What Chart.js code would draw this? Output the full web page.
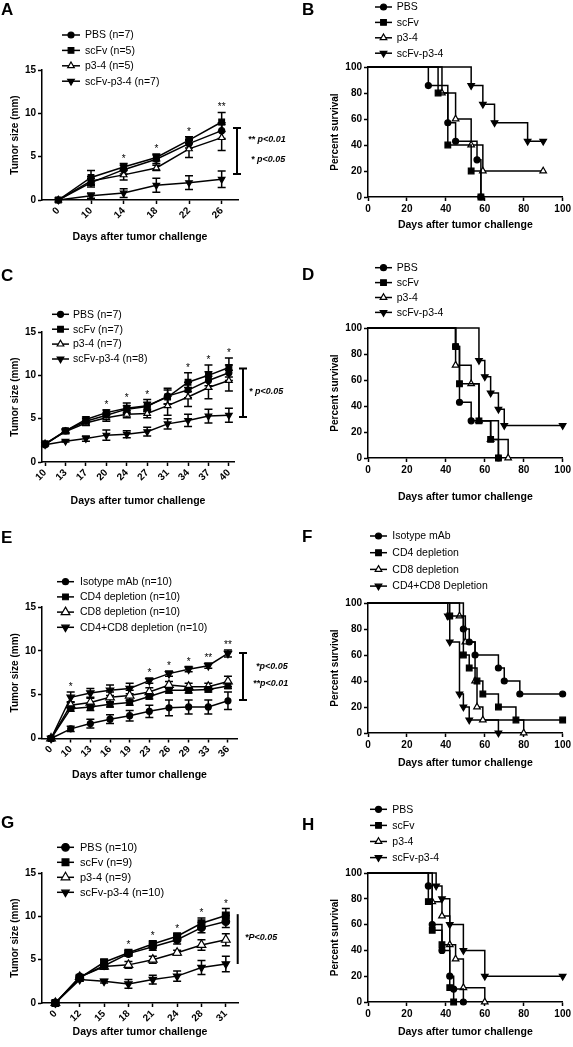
<!DOCTYPE html>
<html>
<head>
<meta charset="utf-8">
<script src="https://cdn.jsdelivr.net/npm/chart.js@4.4.0/dist/chart.umd.min.js"></script>
<style>
  html, body { margin: 0; padding: 0; background: #fff; }
  #fig { position: relative; width: 573px; height: 1047px; overflow: hidden; background: #fff; }
  #fig canvas { position: absolute; }
</style>
</head>
<body>
<div id="fig"></div>
<script>
// ---------- A: tumor size, 4 groups ----------
const daysA = ['0', '10', '14', '18', '22', '26'];
const pbsA = [0, 2.0, 3.5, 4.7, 6.5, 8.0];
const scfvA = [0, 2.6, 3.8, 4.9, 6.9, 9.0];
const p34A = [0, 2.2, 2.9, 3.7, 5.9, 7.2];
const comboA = [0, 0.5, 0.8, 1.7, 2.0, 2.4];
const pbsErrA = [0, 0.5, 0.5, 0.5, 0.5, 0.9];
const scfvErrA = [0, 0.8, 0.4, 0.4, 0.4, 1.1];
const p34ErrA = [0, 0.5, 0.6, 0.3, 1.0, 1.5];
const comboErrA = [0, 0.3, 0.5, 0.8, 0.8, 0.95];
const starsA = ['', '', '*', '*', '*', '**'];

// ---------- B: survival ----------
const pbsTimeB = [0, 31, 41, 45, 56, 58];
const pbsSurvB = [100, 85.7, 57.1, 42.9, 28.6, 0];
const scfvTimeB = [0, 36, 41, 53, 58];
const scfvSurvB = [100, 80, 40, 20, 0];
const p34TimeB = [0, 38, 45, 53, 59, 90];
const p34SurvB = [100, 80, 60, 40, 20, 20];
const comboTimeB = [0, 53, 59, 65, 82, 90];
const comboSurvB = [100, 85.7, 71.4, 57.1, 42.9, 42.9];

// ---------- C ----------
const daysC = ['10', '13', '17', '20', '24', '27', '31', '34', '37', '40'];
const pbsC = [2.0, 3.6, 4.7, 5.4, 6.1, 6.4, 7.6, 8.3, 9.4, 10.3];
const scfvC = [2.1, 3.6, 4.9, 5.7, 6.2, 6.5, 7.5, 9.2, 10.0, 10.9];
const p34C = [2.1, 3.5, 4.5, 5.1, 5.5, 5.6, 6.5, 7.5, 8.6, 9.4];
const comboC = [2.0, 2.4, 2.7, 3.1, 3.2, 3.5, 4.4, 4.8, 5.3, 5.4];
const pbsErrC = [0.1, 0.2, 0.3, 0.3, 0.4, 0.5, 0.9, 0.9, 1.0, 0.9];
const scfvErrC = [0.1, 0.2, 0.3, 0.3, 0.6, 0.7, 0.8, 1.1, 1.2, 1.1];
const p34ErrC = [0.1, 0.2, 0.3, 0.4, 0.4, 0.5, 1.1, 1.1, 1.3, 1.2];
const comboErrC = [0.1, 0.1, 0.3, 0.6, 0.4, 0.5, 0.6, 0.7, 0.8, 0.8];
const starsC = ['', '', '', '*', '*', '*', '', '*', '*', '*'];

// ---------- D ----------
const pbsTimeD = [0, 45, 47, 53, 67];
const pbsSurvD = [100, 85.7, 42.9, 28.6, 0];
const scfvTimeD = [0, 45, 47, 57, 63, 67];
const scfvSurvD = [100, 85.7, 57.1, 28.6, 14.3, 0];
const p34TimeD = [0, 45, 53, 57, 63, 72];
const p34SurvD = [100, 71.4, 57.1, 28.6, 14.3, 0];
const comboTimeD = [0, 57, 60, 63, 67, 70, 100];
const comboSurvD = [100, 75, 62.5, 50, 37.5, 25, 25];

// ---------- E ----------
const daysE = ['0', '10', '13', '16', '19', '23', '26', '29', '33', '36'];
const isoE = [0, 1.1, 1.7, 2.2, 2.6, 3.1, 3.5, 3.6, 3.6, 4.3];
const cd4E = [0, 3.4, 3.6, 3.9, 4.1, 4.8, 5.5, 5.5, 5.6, 6.0];
const cd8E = [0, 3.8, 4.1, 4.7, 4.9, 5.3, 6.1, 5.9, 5.9, 6.5];
const dblE = [0, 4.7, 5.2, 5.5, 5.7, 6.6, 7.4, 7.9, 8.3, 9.7];
const isoErrE = [0, 0.3, 0.5, 0.5, 0.6, 0.7, 0.9, 0.8, 0.8, 1.0];
const cd4ErrE = [0, 0.3, 0.4, 0.3, 0.3, 0.3, 0.3, 0.3, 0.3, 0.3];
const cd8ErrE = [0, 0.4, 0.5, 0.6, 0.6, 0.5, 0.4, 0.4, 0.4, 0.6];
const dblErrE = [0, 0.6, 0.5, 0.6, 0.6, 0.3, 0.3, 0.3, 0.3, 0.4];
const starsE = ['', '*', '', '', '', '*', '*', '*', '**', '**'];

// ---------- F ----------
const isoTimeF = [0, 49, 52, 55, 67, 70, 78, 100];
const isoSurvF = [100, 80, 70, 60, 50, 40, 30, 30];
const cd4TimeF = [0, 42, 49, 52, 56, 59, 67, 76, 100];
const cd4SurvF = [100, 90, 60, 50, 40, 30, 20, 10, 10];
const cd8TimeF = [0, 47, 50, 55, 56, 59, 80];
const cd8SurvF = [100, 90, 70, 40, 20, 10, 0];
const dblTimeF = [0, 41, 42, 47, 49, 52, 67];
const dblSurvF = [100, 90, 70, 30, 20, 10, 0];

// ---------- G ----------
const daysG = ['0', '12', '15', '18', '21', '24', '28', '31'];
const pbsG = [0, 3.0, 4.3, 5.7, 6.5, 7.3, 8.7, 9.4];
const scfvG = [0, 2.9, 4.7, 5.8, 6.8, 7.7, 9.2, 10.1];
const p34G = [0, 3.0, 4.2, 4.4, 5.0, 5.8, 6.7, 7.3];
const comboG = [0, 2.7, 2.5, 2.2, 2.7, 3.1, 4.1, 4.5];
const pbsErrG = [0, 0.2, 0.3, 0.3, 0.4, 0.5, 0.6, 0.7];
const scfvErrG = [0, 0.2, 0.3, 0.3, 0.3, 0.3, 0.6, 0.8];
const p34ErrG = [0, 0.2, 0.3, 0.4, 0.4, 0.3, 0.6, 0.7];
const comboErrG = [0, 0.2, 0.2, 0.5, 0.5, 0.6, 0.8, 0.9];
const starsG = ['', '', '', '*', '*', '*', '*', '*'];

// ---------- H ----------
const pbsTimeH = [0, 31, 33, 38, 42, 44, 49];
const pbsSurvH = [100, 90, 60, 40, 20, 10, 0];
const scfvTimeH = [0, 31, 33, 38, 42, 44];
const scfvSurvH = [100, 77.8, 55.6, 44.4, 11.1, 0];
const p34TimeH = [0, 33, 38, 42, 45, 49, 60];
const p34SurvH = [100, 77.8, 66.7, 44.4, 33.3, 11.1, 0];
const comboTimeH = [0, 35, 38, 42, 49, 60, 100];
const comboSurvH = [100, 90, 80, 60, 40, 20, 20];

const FONT = "'Liberation Sans', Arial, Helvetica, sans-serif";
Chart.defaults.font.family = FONT;
Chart.defaults.color = '#000';

const mk = {
  circle: { style: 'circle', rot: 0, fill: '#000', r: 3 },
  square: { style: 'rect', rot: 0, fill: '#000', r: 4 },
  openTri: { style: 'triangle', rot: 0, fill: '#fff', r: 3.8 },
  downTri: { style: 'triangle', rot: 180, fill: '#000', r: 3.8 }
};
function big(m, r) { return Object.assign({}, m, { r: r }); }

// canvas box + plot area, both in page pixels
function frame(box, area, yTitleX, xTitleY) {
  const lhX = 10.5 * 1.2, lhY = 10 * 1.2;
  const xH = xTitleY - area.b + lhX / 2;
  const padLeft = yTitleX - box.x - lhY / 2;
  return {
    padding: { left: padLeft, top: area.t - box.y, right: box.x + box.w - area.r, bottom: box.y + box.h - area.b - xH },
    yW: area.l - box.x - padLeft,
    xH: xH
  };
}

function makeCanvas(box) {
  const c = document.createElement('canvas');
  c.width = box.w; c.height = box.h;
  c.style.left = box.x + 'px'; c.style.top = box.y + 'px';
  c.style.width = box.w + 'px'; c.style.height = box.h + 'px';
  document.getElementById('fig').appendChild(c);
  return c;
}

function dataset(label, xs, ys, m, survival) {
  return {
    label: label,
    data: ys.map((y, i) => ({ x: xs[i], y: y })),
    borderColor: '#000', borderWidth: 1.5,
    pointStyle: m.style, pointRotation: m.rot,
    pointRadius: survival ? xs.map((t, i) => i === 0 ? 0 : m.r) : m.r,
    pointHoverRadius: m.r,
    pointBackgroundColor: m.fill, pointBorderColor: '#000', pointBorderWidth: 1.2,
    stepped: survival ? 'before' : false,
    tension: 0, fill: false, clip: false
  };
}

function overlay(spec) {
  return {
    id: 'overlay',
    beforeDatasetsDraw(chart) {
      if (!spec.errs) return;
      const ctx = chart.ctx, ys = chart.scales.y;
      ctx.save();
      ctx.strokeStyle = '#000'; ctx.lineWidth = 1.5;
      spec.errs.forEach((err, i) => {
        const meta = chart.getDatasetMeta(i);
        err.forEach((e, j) => {
          if (!e) return;
          const v = chart.data.datasets[i].data[j].y;
          const x = meta.data[j].x;
          const y1 = ys.getPixelForValue(v + e), y2 = ys.getPixelForValue(v - e);
          ctx.beginPath();
          ctx.moveTo(x, y1); ctx.lineTo(x, y2);
          ctx.moveTo(x - 4, y1); ctx.lineTo(x + 4, y1);
          ctx.moveTo(x - 4, y2); ctx.lineTo(x + 4, y2);
          ctx.stroke();
        });
      });
      ctx.restore();
    },
    afterDraw(chart) {
      const ctx = chart.ctx, ys = chart.scales.y;
      ctx.save();
      ctx.fillStyle = '#000'; ctx.strokeStyle = '#000';
      // panel letter
      ctx.font = 'bold 17px ' + FONT;
      ctx.textAlign = 'left'; ctx.textBaseline = 'alphabetic';
      ctx.fillText(spec.letter, spec.letterAt[0], spec.letterAt[1]);
      // legend
      const lg = spec.legend;
      ctx.font = lg.size + 'px ' + FONT;
      ctx.textBaseline = 'middle';
      chart.data.datasets.forEach((d, i) => {
        const y = lg.y + i * lg.dy;
        const m = spec.marks[i];
        ctx.lineWidth = 1.5; ctx.strokeStyle = '#000';
        ctx.beginPath(); ctx.moveTo(lg.x, y); ctx.lineTo(lg.x + lg.len, y); ctx.stroke();
        ctx.fillStyle = m.fill; ctx.lineWidth = 1.2;
        Chart.helpers.drawPoint(ctx, { pointStyle: m.style, rotation: m.rot, radius: m.r, borderWidth: 1.2 }, lg.x + lg.len / 2, y);
        ctx.fillStyle = '#000';
        ctx.fillText(d.label, lg.tx, y + 0.5);
      });
      // significance stars
      if (spec.stars) {
        ctx.font = '10px ' + FONT; ctx.textAlign = 'center'; ctx.textBaseline = 'alphabetic';
        spec.stars.forEach((s, j) => {
          if (!s) return;
          let top = -Infinity;
          chart.data.datasets.forEach((d, i) => { top = Math.max(top, d.data[j].y + (spec.errs[i][j] || 0)); });
          const x = chart.getDatasetMeta(0).data[j].x;
          ctx.fillText(s, x, ys.getPixelForValue(top) - 2);
        });
      }
      // bracket + p values
      if (spec.bracket) {
        const b = spec.bracket;
        const y1 = ys.getPixelForValue(b.from), y2 = ys.getPixelForValue(b.to);
        ctx.lineWidth = 2;
        ctx.beginPath();
        ctx.moveTo(b.x, y1); ctx.lineTo(b.x, y2);
        if (b.cap) {
          ctx.moveTo(b.x - b.cap, y1); ctx.lineTo(b.x + b.cap, y1);
          ctx.moveTo(b.x - b.cap, y2); ctx.lineTo(b.x + b.cap, y2);
        }
        ctx.stroke();
        ctx.font = 'italic bold 9px ' + FONT; ctx.textAlign = 'left'; ctx.textBaseline = 'middle';
        b.notes.forEach(n => ctx.fillText(n[0], n[1], n[2]));
      }
      ctx.restore();
    }
  };
}

function axisStyle() {
  return {
    grid: { display: true, drawOnChartArea: false, drawTicks: true, tickLength: 4, tickWidth: 1.5, tickColor: '#000', color: '#000' },
    border: { display: true, color: '#000', width: 1.5 }
  };
}

function tumorPanel(p) {
  const f = frame(p.box, p.area, p.yTitleX, p.xTitleY);
  const idx = p.days.map((d, i) => i);
  const sets = p.series.map((s, i) => dataset(s, idx, p.values[i], p.marks[i], false));
  new Chart(makeCanvas(p.box), {
    type: 'line',
    data: { datasets: sets },
    options: {
      responsive: false, animation: false, devicePixelRatio: 1,
      layout: { padding: f.padding },
      plugins: { legend: { display: false }, tooltip: { enabled: false } },
      scales: {
        x: Object.assign(axisStyle(), {
          type: 'linear', min: p.xMin, max: p.xMax,
          afterBuildTicks: s => { s.ticks = idx.map(i => ({ value: i })); },
          afterFit: s => { s.height = f.xH; },
          ticks: { autoSkip: false, minRotation: 45, maxRotation: 45, padding: 1, font: { size: 10, weight: 'bold' }, callback: v => p.days[v] },
          title: { display: true, text: 'Days after tumor challenge', font: { size: 10.5, weight: 'bold' }, padding: 0 }
        }),
        y: Object.assign(axisStyle(), {
          type: 'linear', min: 0, max: 15,
          afterFit: s => { s.width = f.yW; },
          ticks: { stepSize: 5, padding: 2, font: { size: 10, weight: 'bold' } },
          title: { display: true, text: 'Tumor size (mm)', font: { size: 10, weight: 'bold' }, padding: 0 }
        })
      }
    },
    plugins: [overlay(p)]
  });
}

function survivalPanel(p) {
  const f = frame(p.box, p.area, p.yTitleX, p.xTitleY);
  const sets = p.series.map((s, i) => dataset(s, p.times[i], p.surv[i], p.marks[i], true));
  new Chart(makeCanvas(p.box), {
    type: 'line',
    data: { datasets: sets },
    options: {
      responsive: false, animation: false, devicePixelRatio: 1,
      layout: { padding: f.padding },
      plugins: { legend: { display: false }, tooltip: { enabled: false } },
      scales: {
        x: Object.assign(axisStyle(), {
          type: 'linear', min: 0, max: 100,
          afterFit: s => { s.height = f.xH; },
          ticks: { stepSize: 20, padding: 2, maxRotation: 0, font: { size: 10, weight: 'bold' } },
          title: { display: true, text: 'Days after tumor challenge', font: { size: 10.5, weight: 'bold' }, padding: 0 }
        }),
        y: Object.assign(axisStyle(), {
          type: 'linear', min: 0, max: 100,
          afterFit: s => { s.width = f.yW; },
          ticks: { stepSize: 20, padding: 2, font: { size: 10, weight: 'bold' } },
          title: { display: true, text: 'Percent survival', font: { size: 10, weight: 'bold' }, padding: 0 }
        })
      }
    },
    plugins: [overlay(p)]
  });
}

const groups4 = ['PBS', 'scFv', 'p3-4', 'scFv-p3-4'];
const marks4 = [mk.circle, mk.square, mk.openTri, mk.downTri];

// A
tumorPanel({
  box: { x: 0, y: 0, w: 300, h: 255 }, area: { l: 42, r: 238, t: 70, b: 200 }, yTitleX: 15, xTitleY: 237,
  days: daysA, xMin: -0.5, xMax: 5.5,
  series: ['PBS (n=7)', 'scFv (n=5)', 'p3-4 (n=5)', 'scFv-p3-4 (n=7)'],
  values: [pbsA, scfvA, p34A, comboA], errs: [pbsErrA, scfvErrA, p34ErrA, comboErrA], stars: starsA,
  marks: marks4, letter: 'A', letterAt: [1, 15],
  legend: { x: 62, len: 18, tx: 85, y: 35, dy: 15.4, size: 10.5 },
  bracket: { x: 237, from: 3.0, to: 8.3, cap: 4, notes: [['** p<0.01', 248, 140], ['* p<0.05', 251, 160]] }
});
// B
survivalPanel({
  box: { x: 285, y: 0, w: 288, h: 255 }, area: { l: 368, r: 563, t: 67, b: 197 }, yTitleX: 335, xTitleY: 225,
  series: groups4, times: [pbsTimeB, scfvTimeB, p34TimeB, comboTimeB], surv: [pbsSurvB, scfvSurvB, p34SurvB, comboSurvB],
  marks: marks4, letter: 'B', letterAt: [17, 15],
  legend: { x: 90, len: 17, tx: 111.7, y: 7, dy: 15.4, size: 10.5 }
});
// C
tumorPanel({
  box: { x: 0, y: 255, w: 300, h: 262 }, area: { l: 42, r: 234, t: 332, b: 462 }, yTitleX: 15, xTitleY: 501,
  days: daysC, xMin: -0.15, xMax: 9.25,
  series: ['PBS (n=7)', 'scFv (n=7)', 'p3-4 (n=7)', 'scFv-p3-4 (n=8)'],
  values: [pbsC, scfvC, p34C, comboC], errs: [pbsErrC, scfvErrC, p34ErrC, comboErrC], stars: starsC,
  marks: marks4, letter: 'C', letterAt: [1, 25.5],
  legend: { x: 52, len: 17, tx: 73, y: 59.3, dy: 14.9, size: 10.5 },
  bracket: { x: 243, from: 5.2, to: 10.8, cap: 4, notes: [['* p<0.05', 249, 137]] }
});
// D
survivalPanel({
  box: { x: 285, y: 255, w: 288, h: 262 }, area: { l: 368, r: 563, t: 328, b: 458 }, yTitleX: 335, xTitleY: 497,
  series: groups4, times: [pbsTimeD, scfvTimeD, p34TimeD, comboTimeD], surv: [pbsSurvD, scfvSurvD, p34SurvD, comboSurvD],
  marks: marks4, letter: 'D', letterAt: [17, 25],
  legend: { x: 90, len: 17, tx: 111.7, y: 12.7, dy: 14.9, size: 10.5 }
});
// E
tumorPanel({
  box: { x: 0, y: 500, w: 300, h: 288 }, area: { l: 42, r: 237, t: 607, b: 738.5 }, yTitleX: 15, xTitleY: 775,
  days: daysE, xMin: -0.46, xMax: 9.46,
  series: ['Isotype mAb (n=10)', 'CD4 depletion (n=10)', 'CD8 depletion (n=10)', 'CD4+CD8 depletion (n=10)'],
  values: [isoE, cd4E, cd8E, dblE], errs: [isoErrE, cd4ErrE, cd8ErrE, dblErrE], stars: starsE,
  marks: [mk.circle, mk.square, big(mk.openTri, 5), big(mk.downTri, 4.3)], letter: 'E', letterAt: [1, 42.7],
  legend: { x: 57, len: 17, tx: 80, y: 81.7, dy: 15.2, size: 10.5 },
  bracket: { x: 243, from: 4.4, to: 9.75, cap: 4, notes: [['*p<0.05', 256, 166.7], ['**p<0.01', 253, 183.3]] }
});
// F
survivalPanel({
  box: { x: 285, y: 500, w: 288, h: 280 }, area: { l: 368, r: 563, t: 603, b: 733 }, yTitleX: 335, xTitleY: 763,
  series: ['Isotype mAb', 'CD4 depletion', 'CD8 depletion', 'CD4+CD8 Depletion'],
  times: [isoTimeF, cd4TimeF, cd8TimeF, dblTimeF], surv: [isoSurvF, cd4SurvF, cd8SurvF, dblSurvF],
  marks: marks4, letter: 'F', letterAt: [17, 41.7],
  legend: { x: 85, len: 17, tx: 107.3, y: 36, dy: 16.7, size: 10.5 }
});
// G
tumorPanel({
  box: { x: 0, y: 790, w: 300, h: 257 }, area: { l: 42, r: 238, t: 873, b: 1003 }, yTitleX: 15, xTitleY: 1032,
  days: daysG, xMin: -0.55, xMax: 7.5,
  series: ['PBS (n=10)', 'scFv (n=9)', 'p3-4 (n=9)', 'scFv-p3-4 (n=10)'],
  values: [pbsG, scfvG, p34G, comboG], errs: [pbsErrG, scfvErrG, p34ErrG, comboErrG], stars: starsG,
  marks: [big(mk.circle, 3.8), big(mk.square, 4.8), big(mk.openTri, 5), big(mk.downTri, 4.3)], letter: 'G', letterAt: [1, 38.3],
  legend: { x: 57, len: 17, tx: 80, y: 57.3, dy: 15, size: 11 },
  bracket: { x: 237.7, from: 4.5, to: 10.25, cap: 0, notes: [['*P<0.05', 245, 148]] }
});
// H
survivalPanel({
  box: { x: 285, y: 785, w: 288, h: 262 }, area: { l: 368, r: 563, t: 873, b: 1002 }, yTitleX: 335, xTitleY: 1032,
  series: groups4, times: [pbsTimeH, scfvTimeH, p34TimeH, comboTimeH], surv: [pbsSurvH, scfvSurvH, p34SurvH, comboSurvH],
  marks: marks4, letter: 'H', letterAt: [17, 45],
  legend: { x: 85, len: 17, tx: 107.3, y: 24.3, dy: 16.1, size: 10.5 }
});
</script>
</body>
</html>
